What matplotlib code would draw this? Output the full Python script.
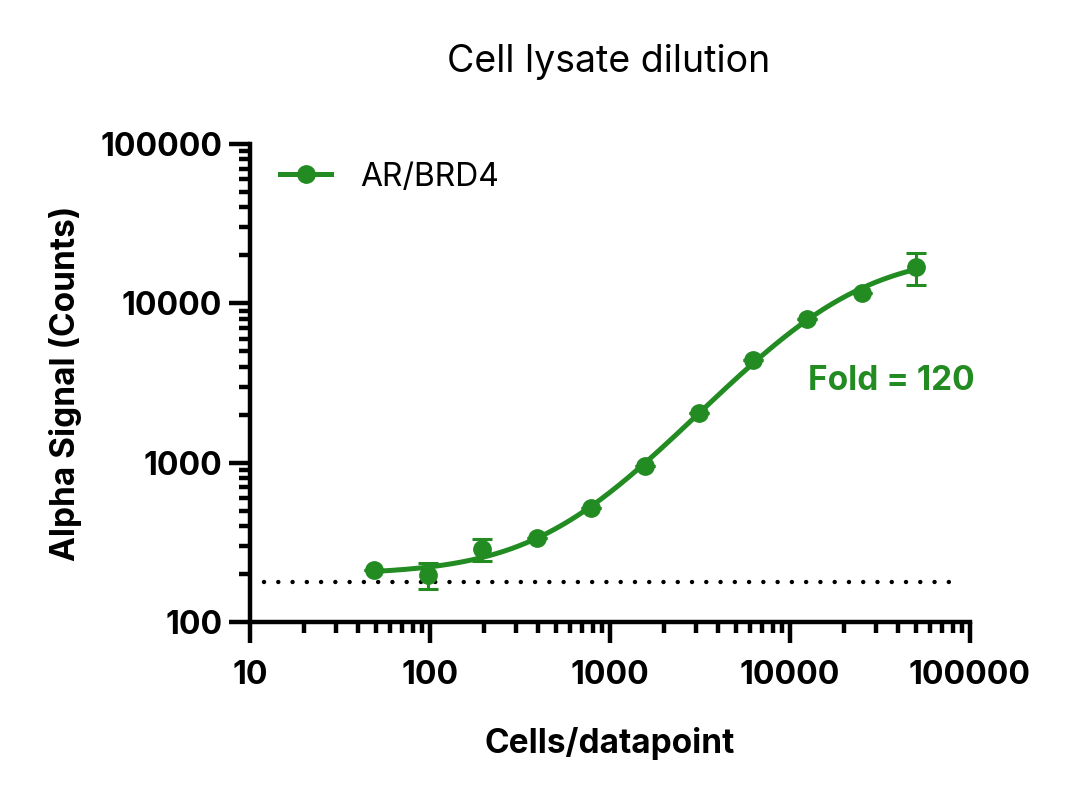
import numpy as np
import matplotlib
matplotlib.use("Agg")
import matplotlib.pyplot as plt
from matplotlib.ticker import LogLocator, FixedLocator, NullFormatter

plt.rcParams['font.family'] = ['Inter', 'DejaVu Sans']

# data
cells = [48.8, 97.7, 195, 391, 781, 1563, 3125, 6250, 12500, 25000, 50000]
signal = [212, 197, 287, 337, 519, 953, 2050, 4415, 7980, 11620, 16930]
signal_err = [0, 36, 46, 0, 0, 0, 0, 0, 0, 0, 3850]
background = 178
fold_text = "Fold = 120"
green = "#228B22"

x = np.array(cells, dtype=float)
y = np.array(signal, dtype=float)


# 4-parameter logistic fit (in log signal), simple Gauss-Newton
def model(p, xx):
    bottom, top, logec, hill = p
    return bottom + (top - bottom) / (1 + 10 ** ((logec - np.log10(xx)) * hill))


p = np.array([200.0, 20000.0, 3.6, 1.0])
for _ in range(200):
    r = np.log10(y) - np.log10(model(p, x))
    J = np.zeros((len(x), 4))
    for k in range(4):
        dp = np.zeros(4)
        dp[k] = 1e-6 * max(abs(p[k]), 1.0)
        J[:, k] = (np.log10(model(p + dp, x)) - np.log10(model(p, x))) / dp[k]
    step = np.linalg.lstsq(J, r, rcond=None)[0]
    p = p + 0.5 * step

xs = np.logspace(np.log10(x.min()), np.log10(x.max()), 300)

fig = plt.figure(figsize=(10.8, 7.93), dpi=100)
ax = fig.add_axes([250 / 1080, 1 - 622 / 793, 720 / 1080, 478 / 793])

ax.plot(xs, model(p, xs), color=green, lw=3.6, zorder=3)
ax.errorbar(x, y, yerr=signal_err, fmt='o', color=green, ms=12.5, elinewidth=2.2,
            capsize=7, capthick=2.2, zorder=4)
ax.plot([], [], '-o', color=green, lw=3.6, ms=12.5, label="AR/BRD4")
ax.plot([12, 90000], [background, background], color='black', lw=3.2,
        linestyle=(0, (0.01, 3.2)), dash_capstyle='round', zorder=2)

ax.text(0.775, 0.504, fold_text, transform=ax.transAxes, color=green,
        fontsize=24, fontweight='bold', ha='left', va='center')

ax.set_xscale('log')
ax.set_yscale('log')
ax.set_xlim(10, 100000)
ax.set_ylim(100, 100000)
ax.xaxis.set_major_locator(FixedLocator([10, 100, 1000, 10000, 100000]))
ax.yaxis.set_major_locator(FixedLocator([100, 1000, 10000, 100000]))
ax.set_xticklabels(["10", "100", "1000", "10000", "100000"])
ax.set_yticklabels(["100", "1000", "10000", "100000"])
ax.xaxis.set_minor_locator(LogLocator(base=10, subs=np.arange(2, 10)))
ax.yaxis.set_minor_locator(LogLocator(base=10, subs=np.arange(2, 10)))
ax.xaxis.set_minor_formatter(NullFormatter())
ax.yaxis.set_minor_formatter(NullFormatter())

for s in ['top', 'right']:
    ax.spines[s].set_visible(False)
for s in ['left', 'bottom']:
    ax.spines[s].set_linewidth(3.2)
ax.tick_params(which='major', length=15, width=3.2, labelsize=23)
ax.tick_params(axis='x', which='major', pad=12)
ax.tick_params(axis='y', which='major', pad=5)
ax.tick_params(which='minor', length=8, width=3.2)
for lab in ax.get_xticklabels() + ax.get_yticklabels():
    lab.set_fontweight('bold')

ax.set_xlabel("Cells/datapoint", fontsize=24, fontweight='bold', labelpad=26)
ax.set_ylabel("Alpha Signal (Counts)", fontsize=24, fontweight='bold', labelpad=13)
fig.text(609 / 1080, 1 - 62 / 793, "Cell lysate dilution", fontsize=27,
         ha='center', va='center')

ax.legend(loc='center left', frameon=False, fontsize=23, handlelength=1.6,
          handletextpad=0.9, borderpad=0, borderaxespad=0,
          bbox_to_anchor=(30 / 720, (622 - 177) / 478))

fig.savefig("out.png", dpi=100)
